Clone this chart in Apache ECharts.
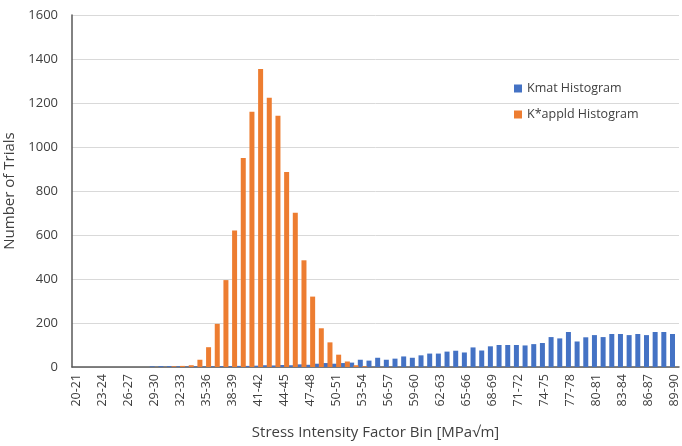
<!DOCTYPE html>
<html>
<head>
<meta charset="utf-8">
<script src="https://cdn.jsdelivr.net/npm/echarts@6/dist/echarts.min.js"></script>
<style>
  html, body { margin: 0; padding: 0; background: #fff; }
  #chart { width: 682px; height: 446px; }
</style>
</head>
<body>
<div id="chart"></div>
<script>
// Bins of 1 MPa√m from 20 to 90
const bins = [];
for (let k = 20; k < 90; k++) bins.push(k + '-' + (k + 1));

// Material toughness trial counts per bin
const kmatCounts = [
  0, 0, 0, 0, 0, 0, 0, 0, 0, 3,
  4, 4, 3, 2, 3, 2, 3, 4, 4, 5,
  5, 6, 8, 7, 9, 8, 12, 10, 15, 18,
  15, 18, 20, 33, 29, 42, 33, 38, 48, 42,
  53, 61, 61, 70, 74, 66, 89, 75, 94, 100,
  100, 100, 98, 104, 109, 136, 130, 159, 116, 135,
  145, 136, 150, 150, 145, 150, 145, 159, 159, 150
];

// Applied stress intensity trial counts per bin
const kApplCounts = [
  0, 0, 0, 0, 0, 0, 0, 0, 0, 0,
  0, 3, 5, 8, 33, 90, 196, 395, 621, 950,
  1160, 1355, 1224, 1142, 886, 701, 485, 320, 176, 112,
  56, 25, 8, 3, 0, 0, 0, 0, 0, 0,
  0, 0, 0, 0, 0, 0, 0, 0, 0, 0,
  0, 0, 0, 0, 0, 0, 0, 0, 0, 0,
  0, 0, 0, 0, 0, 0, 0, 0, 0, 0
];

const yTicks = { min: 0, max: 1600, step: 200 };

const font = 'Open Sans, Liberation Sans, sans-serif';
const chart = echarts.init(document.getElementById('chart'), null, { renderer: 'canvas' });

chart.setOption({
  animation: false,
  backgroundColor: '#ffffff',
  grid: {
    left: 72, right: 3, top: 15, bottom: 79,
    containLabel: false,
    outerBoundsMode: 'none'
  },
  legend: {
    orient: 'vertical',
    left: 509,
    top: 77,
    itemWidth: 8,
    itemHeight: 8,
    itemGap: 13,
    icon: 'rect',
    textStyle: { fontFamily: font, fontSize: 12.5, color: '#404040' },
    data: ['Kmat Histogram', 'K*appld Histogram']
  },
  xAxis: {
    type: 'category',
    data: bins,
    name: 'Stress Intensity Factor Bin [MPa√m]',
    nameLocation: 'middle',
    nameGap: 58,
    nameTextStyle: { fontFamily: font, fontSize: 15, color: '#404040' },
    axisLine: { lineStyle: { color: '#595959', width: 1.5 } },
    axisTick: { show: false },
    axisLabel: {
      interval: 2,
      rotate: 90,
      margin: 7,
      fontFamily: font,
      fontSize: 12.5,
      color: '#404040'
    }
  },
  yAxis: {
    type: 'value',
    min: yTicks.min,
    max: yTicks.max,
    interval: yTicks.step,
    name: 'Number of Trials',
    nameLocation: 'middle',
    nameGap: 49,
    nameTextStyle: { fontFamily: font, fontSize: 15, color: '#404040' },
    axisLine: { show: true, lineStyle: { color: '#595959', width: 1.5 } },
    axisTick: { show: false },
    axisLabel: {
      margin: 14,
      fontFamily: font,
      fontSize: 13,
      color: '#404040',
      formatter: (v) => String(v)
    },
    splitLine: { lineStyle: { color: '#d9d9d9', width: 1 } }
  },
  series: [
    {
      name: 'Kmat Histogram',
      type: 'bar',
      data: kmatCounts,
      barWidth: 5,
      barGap: '-13%',
      itemStyle: { color: '#4472C4' }
    },
    {
      name: 'K*appld Histogram',
      type: 'bar',
      data: kApplCounts,
      barWidth: 5,
      barGap: '-13%',
      itemStyle: { color: '#ED7D31' }
    }
  ]
});
</script>
</body>
</html>
